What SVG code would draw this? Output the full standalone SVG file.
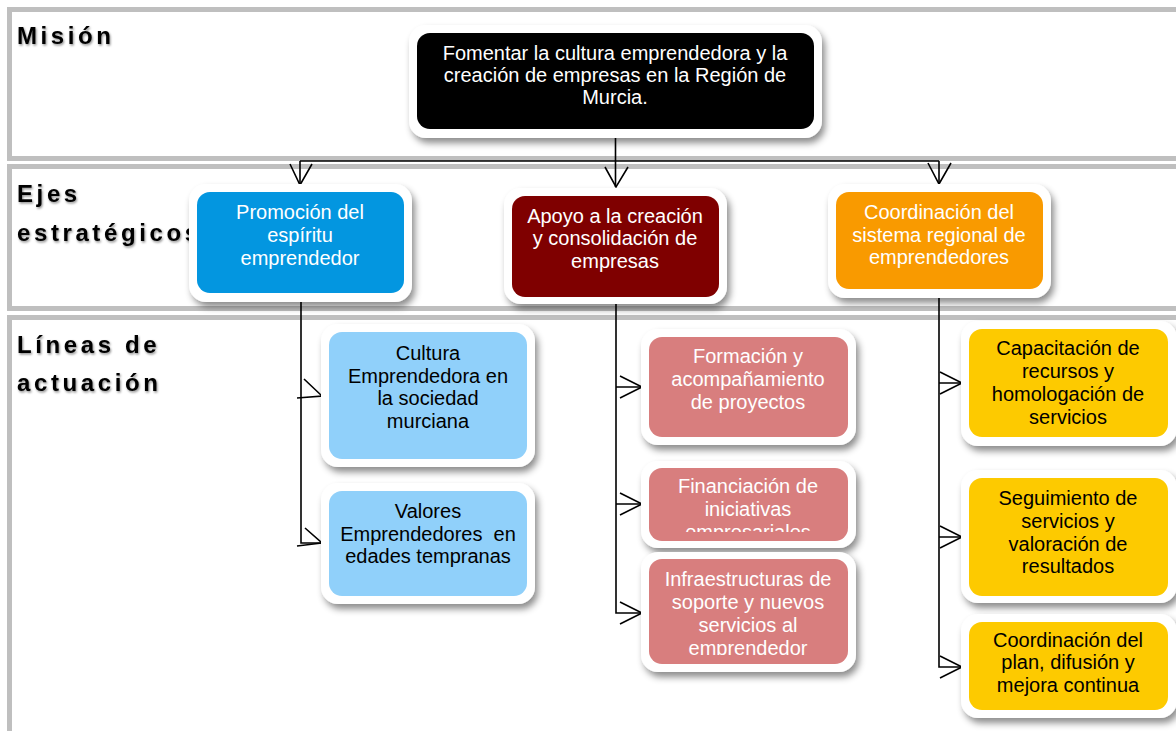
<svg xmlns="http://www.w3.org/2000/svg" width="1176" height="731" viewBox="0 0 1176 731">
<defs>
<filter id="sh" x="-20%" y="-20%" width="150%" height="160%">
<feDropShadow dx="3" dy="5" stdDeviation="3.5" flood-color="#000" flood-opacity="0.45"/>
</filter>
<filter id="tsh" x="-10%" y="-20%" width="130%" height="150%">
<feDropShadow dx="1" dy="1.5" stdDeviation="0.8" flood-color="#000" flood-opacity="0.45"/>
</filter>
<clipPath id="cFin"><rect x="649" y="468" width="199" height="64"/></clipPath>
<clipPath id="cInf"><rect x="649" y="559" width="199" height="96"/></clipPath>
</defs>
<style>
.band{fill:#fff;stroke:#bfbfbf;stroke-width:5}
.lbl{font-family:"Liberation Sans",Arial,sans-serif;font-weight:bold;font-size:24px;letter-spacing:3.6px;fill:#000}
.outer{fill:#fff;filter:url(#sh)}
.t{font-family:"Liberation Sans",Arial,sans-serif;font-size:20px;text-anchor:middle}
.w{fill:#fff}
.k{fill:#000}
.ln{fill:none;stroke:#000;stroke-width:1.6}
.ah{fill:none;stroke:#000;stroke-width:1.6;stroke-linejoin:miter}
</style>
<rect width="1176" height="731" fill="#fff"/>
<g id="bands">
<rect class="band" x="9.5" y="9.5" width="1200" height="149"/>
<rect class="band" x="9.5" y="166.5" width="1200" height="142"/>
<rect class="band" x="9.5" y="317.5" width="1200" height="500"/>
</g>
<g id="labels" filter="url(#tsh)">
<text class="lbl" x="17" y="44">Misión</text>
<text class="lbl" x="17" y="202">Ejes</text>
<text class="lbl" x="17" y="241">estratégicos</text>
<text class="lbl" x="17" y="353">Líneas de</text>
<text class="lbl" x="17" y="391">actuación</text>
</g>
<g id="connectors">
<path class="ln" d="M615.5,137 V187 M300,161 H939 M300,161 V185 M939,161 V184"/>
<path class="ah" d="M290,164 L300,185 L312,164 M605,167 L616,187 L628,167 M928,163 L939,184 L951,163"/>
<path class="ln" d="M301,302 V543 H322"/>
<path class="ah" d="M304,379 L322,396 L297,398 M305,528 L322,543 L297,546"/>
<path class="ln" d="M616,304 V613 H642 M616,387 H642 M616,504 H642"/>
<path class="ah" d="M620,376 L642,387 L620,398 M620,493 L642,504 L620,515 M620,602 L642,613 L620,624"/>
<path class="ln" d="M939,298 V667 H962 M939,383 H962 M939,537 H962"/>
<path class="ah" d="M940,372 L962,383 L940,394 M940,526 L962,537 L940,548 M940,656 L962,667 L940,678"/>
</g>
<g id="mision">
<rect class="outer" x="409" y="25" width="413" height="113" rx="17"/>
<rect x="417" y="33" width="397" height="96" rx="13" fill="#000"/>
<text class="t w" x="615" y="60">Fomentar la cultura emprendedora y la</text>
<text class="t w" x="615" y="82">creación de empresas en la Región de</text>
<text class="t w" x="615" y="104">Murcia.</text>
</g>
<g id="promocion">
<rect class="outer" x="189" y="184" width="223" height="118" rx="17"/>
<rect x="197" y="192" width="207" height="101" rx="13" fill="#0396e0"/>
<text class="t w" x="300" y="219">Promoción del</text>
<text class="t w" x="300" y="242">espíritu</text>
<text class="t w" x="300" y="265">emprendedor</text>
</g>
<g id="apoyo">
<rect class="outer" x="504" y="188" width="223" height="116" rx="17"/>
<rect x="512" y="196" width="207" height="101" rx="13" fill="#7f0000"/>
<text class="t w" x="615" y="223">Apoyo a la creación</text>
<text class="t w" x="615" y="245">y consolidación de</text>
<text class="t w" x="615" y="268">empresas</text>
</g>
<g id="coordinacion">
<rect class="outer" x="828" y="184" width="223" height="114" rx="17"/>
<rect x="836" y="192" width="207" height="97" rx="13" fill="#f99a00"/>
<text class="t w" x="939" y="219">Coordinación del</text>
<text class="t w" x="939" y="242">sistema regional de</text>
<text class="t w" x="939" y="264">emprendedores</text>
</g>
<g id="cultura">
<rect class="outer" x="321" y="324" width="214" height="143" rx="17"/>
<rect x="329" y="332" width="198" height="127" rx="13" fill="#90d0fa"/>
<text class="t k" x="428" y="360">Cultura</text>
<text class="t k" x="428" y="383">Emprendedora en</text>
<text class="t k" x="428" y="405">la sociedad</text>
<text class="t k" x="428" y="428">murciana</text>
</g>
<g id="valores">
<rect class="outer" x="321" y="483" width="214" height="121" rx="17"/>
<rect x="329" y="491" width="198" height="105" rx="13" fill="#90d0fa"/>
<text class="t k" x="428" y="518">Valores</text>
<text class="t k" x="428" y="541" xml:space="preserve">Emprendedores  en</text>
<text class="t k" x="428" y="563">edades tempranas</text>
</g>
<g id="formacion">
<rect class="outer" x="641" y="329" width="215" height="116" rx="17"/>
<rect x="649" y="337" width="199" height="100" rx="13" fill="#d87e7e"/>
<text class="t w" x="748" y="363">Formación y</text>
<text class="t w" x="748" y="386">acompañamiento</text>
<text class="t w" x="748" y="409">de proyectos</text>
</g>
<g id="financiacion">
<rect class="outer" x="641" y="461" width="215" height="87" rx="17"/>
<rect x="649" y="468" width="199" height="73" rx="13" fill="#d87e7e"/>
<g clip-path="url(#cFin)">
<text class="t w" x="748" y="493">Financiación de</text>
<text class="t w" x="748" y="516">iniciativas</text>
<text class="t w" x="748" y="539">empresariales</text>
</g>
</g>
<g id="infraestructuras">
<rect class="outer" x="641" y="552" width="215" height="120" rx="17"/>
<rect x="649" y="559" width="199" height="105" rx="13" fill="#d87e7e"/>
<g clip-path="url(#cInf)">
<text class="t w" x="748" y="586">Infraestructuras de</text>
<text class="t w" x="748" y="609">soporte y nuevos</text>
<text class="t w" x="748" y="632">servicios al</text>
<text class="t w" x="748" y="655">emprendedor</text>
</g>
</g>
<g id="capacitacion">
<rect class="outer" x="961" y="321" width="216" height="125" rx="17"/>
<rect x="969" y="329" width="199" height="108" rx="13" fill="#fdca00"/>
<text class="t k" x="1068" y="355">Capacitación de</text>
<text class="t k" x="1068" y="378">recursos y</text>
<text class="t k" x="1068" y="401">homologación de</text>
<text class="t k" x="1068" y="424">servicios</text>
</g>
<g id="seguimiento">
<rect class="outer" x="961" y="470" width="216" height="133" rx="17"/>
<rect x="969" y="478" width="199" height="118" rx="13" fill="#fdca00"/>
<text class="t k" x="1068" y="505">Seguimiento de</text>
<text class="t k" x="1068" y="528">servicios y</text>
<text class="t k" x="1068" y="551">valoración de</text>
<text class="t k" x="1068" y="573">resultados</text>
</g>
<g id="coordinacion-plan">
<rect class="outer" x="961" y="614" width="216" height="104" rx="17"/>
<rect x="969" y="622" width="199" height="88" rx="13" fill="#fdca00"/>
<text class="t k" x="1068" y="647">Coordinación del</text>
<text class="t k" x="1068" y="669">plan, difusión y</text>
<text class="t k" x="1068" y="692">mejora continua</text>
</g>
</svg>
